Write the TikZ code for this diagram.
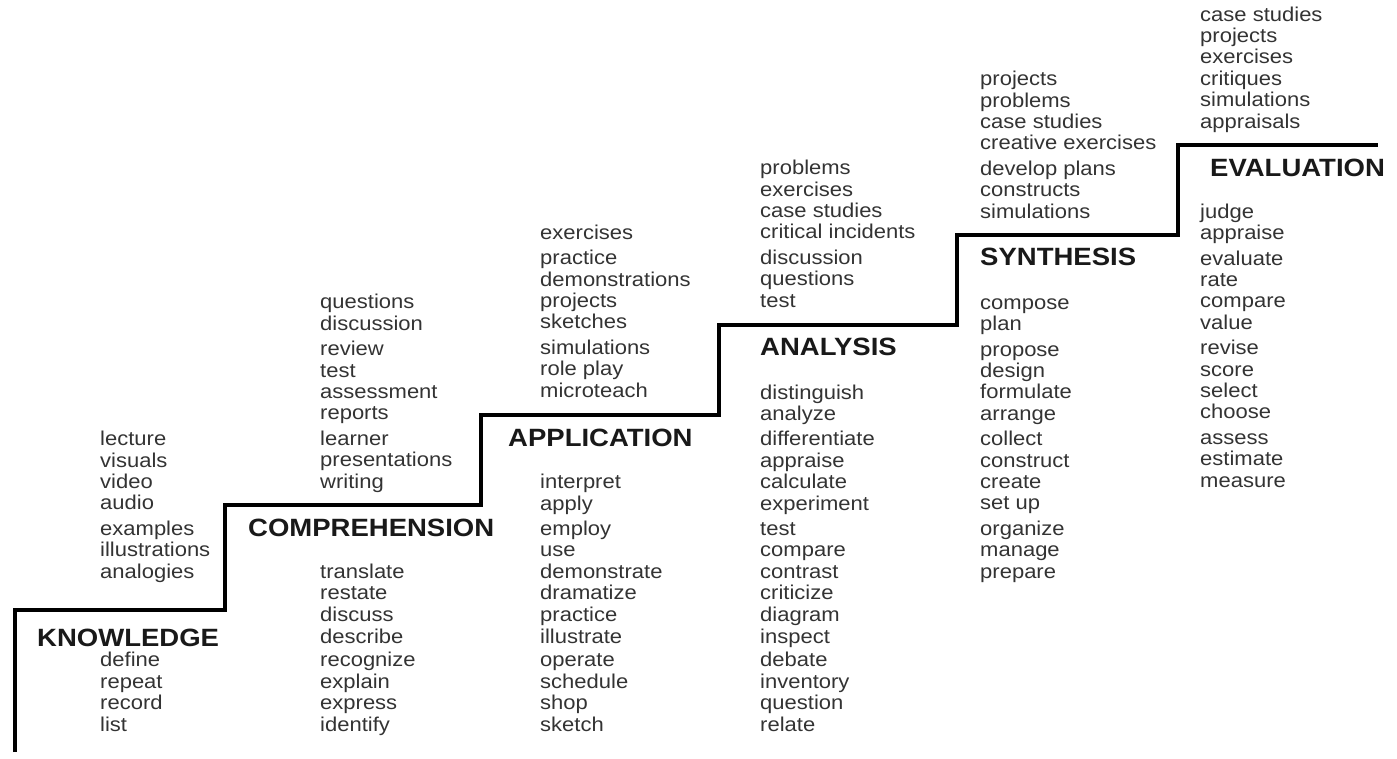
\documentclass[tikz,border=0pt]{standalone}
\usepackage{fontspec}
\setmainfont{Liberation Sans}
\usepackage{tikz}

\begin{document}
\begin{tikzpicture}[x=10pt,y=10pt]
			\tikzstyle{every node}+=[inner sep=0pt, anchor=base west, align=left, xscale=1.1]
			\tikzstyle{words}=[font=\fontsize{20}{21.4}\selectfont, text=black!80]
			\tikzstyle{level}=[font=\fontsize{25}{27}\selectfont\bfseries, text=black!90]
			\useasboundingbox (0,0) rectangle (139.7,-75.8);
			% the stairs
			\draw [black, line width=4.5pt] (1.5,-75.2) |- (22.5,-61.0) |- (48.1,-50.5) |- (71.9,-41.5)
				|- (95.7,-32.5) |- (117.8,-23.5) |- (137.8,-14.5);
			% knowledge (lists sit on the baseline of their last line)
			\node [words] (knowAct) at (10.0,-57.8) {lecture\\visuals\\video\\audio\\[4pt]examples\\illustrations\\analogies};
			\node [level] (know) at (3.7,-64.6) {KNOWLEDGE};
			\node [words] (knowVerb) at (10.0,-73.1) {define\\repeat\\record\\list};
			% comprehension
			\node [words] (compAct) at (32.0,-48.8) {questions\\discussion\\[4pt]review\\test\\assessment\\reports\\[4pt]learner\\presentations\\writing};
			\node [level] (comp) at (24.8,-53.6) {COMPREHENSION};
			\node [words] (compVerb) at (32.0,-73.1) {translate\\restate\\discuss\\[1.5pt]describe\\[1.5pt]recognize\\explain\\express\\identify};
			% application
			\node [words] (applAct) at (54.0,-39.7) {exercises\\[4pt]practice\\demonstrations\\projects\\sketches\\[4pt]simulations\\role play\\microteach};
			\node [level] (appl) at (50.8,-44.6) {APPLICATION};
			\node [words] (applVerb) at (54.0,-73.1) {interpret\\apply\\[4pt]employ\\use\\demonstrate\\dramatize\\practice\\[1.5pt]illustrate\\[1.5pt]operate\\schedule\\shop\\sketch};
			% analysis
			\node [words] (analAct) at (76.0,-30.7) {problems\\exercises\\case studies\\critical incidents\\[4pt]discussion\\questions\\test};
			\node [level] (anal) at (76.0,-35.5) {ANALYSIS};
			\node [words] (analVerb) at (76.0,-73.1) {distinguish\\analyze\\[4pt]differentiate\\appraise\\calculate\\experiment\\[4pt]test\\compare\\contrast\\criticize\\diagram\\[1.5pt]inspect\\[1.5pt]debate\\inventory\\question\\relate};
			% synthesis
			\node [words] (syntAct) at (98.0,-21.8) {projects\\problems\\case studies\\creative exercises\\[4pt]develop plans\\constructs\\simulations};
			\node [level] (synt) at (98.0,-26.5) {SYNTHESIS};
			\node [words] (syntVerb) at (98.0,-57.8) {compose\\plan\\[4pt]propose\\design\\formulate\\arrange\\[4pt]collect\\construct\\create\\set up\\[4pt]organize\\manage\\prepare};
			% evaluation
			\node [words] (evalAct) at (120.0,-12.8) {case studies\\projects\\exercises\\critiques\\simulations\\appraisals};
			\node [level] (eval) at (121.0,-17.6) {EVALUATION};
			\node [words] (evalVerb) at (120.0,-48.7) {judge\\appraise\\[4pt]evaluate\\rate\\compare\\value\\[4pt]revise\\score\\select\\choose\\[4pt]assess\\estimate\\measure};
		\end{tikzpicture}
\end{document}
